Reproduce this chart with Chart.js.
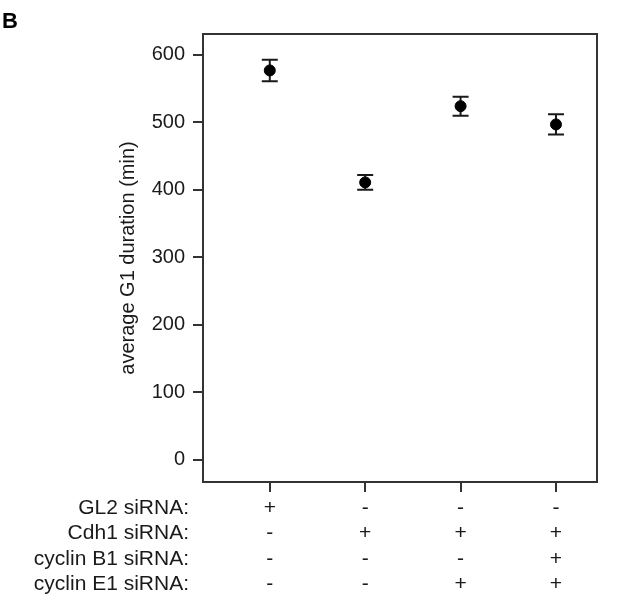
<!DOCTYPE html>
<html>
<head>
<meta charset="utf-8">
<script src="https://cdn.jsdelivr.net/npm/chart.js@4.4.1/dist/chart.umd.min.js"></script>
<style>
  html, body { margin: 0; padding: 0; background: #fff; }
</style>
</head>
<body>
<canvas id="g1Chart" width="624" height="600"></canvas>
<script>
// 🔹 Data
const conditions = [1, 2, 3, 4];
const g1Mean = [577, 411, 524, 497];
const g1Err = [16, 11, 14, 15];
const yTickValues = [0, 100, 200, 300, 400, 500, 600];

const rowLabels = ["GL2 siRNA:", "Cdh1 siRNA:", "cyclin B1 siRNA:", "cyclin E1 siRNA:"];
const gl2Row = ["+", "-", "-", "-"];
const cdh1Row = ["-", "+", "+", "+"];
const cyclinB1Row = ["-", "-", "-", "+"];
const cyclinE1Row = ["-", "-", "+", "+"];
const signRows = [gl2Row, cdh1Row, cyclinB1Row, cyclinE1Row];

const FONT = "'Liberation Sans', Arial, sans-serif";
const INK = "#1a1a1a";
const FRAME = "#333";
const X_TICK_LEN = 10;
const X_TICK_PAD = 3;
const ROW_FONT = 21;
const ROW_H = 25.6;

// 🔹 Error bars, frame, row labels and panel letter
const extras = {
    id: "extras",
    beforeDatasetsDraw(chart) {
        const { ctx, scales: { x, y } } = chart;
        ctx.save();
        ctx.strokeStyle = INK;
        ctx.lineWidth = 2;
        conditions.forEach((c, i) => {
            const px = x.getPixelForValue(c);
            const top = y.getPixelForValue(g1Mean[i] + g1Err[i]);
            const bot = y.getPixelForValue(g1Mean[i] - g1Err[i]);
            ctx.beginPath();
            ctx.moveTo(px, top); ctx.lineTo(px, bot);
            ctx.moveTo(px - 8, top); ctx.lineTo(px + 8, top);
            ctx.moveTo(px - 8, bot); ctx.lineTo(px + 8, bot);
            ctx.stroke();
        });
        ctx.restore();
    },
    afterDraw(chart) {
        const { ctx, chartArea: a } = chart;
        ctx.save();
        ctx.strokeStyle = FRAME;
        ctx.lineWidth = 2;
        ctx.beginPath();
        ctx.moveTo(a.left, a.top); ctx.lineTo(a.right, a.top); ctx.lineTo(a.right, a.bottom);
        ctx.stroke();

        ctx.fillStyle = INK;
        ctx.font = ROW_FONT + "px " + FONT;
        ctx.textAlign = "right";
        ctx.textBaseline = "middle";
        rowLabels.forEach((lab, i) => {
            ctx.fillText(lab, 189, a.bottom + X_TICK_LEN + X_TICK_PAD + ROW_H * (i + 0.5));
        });

        ctx.font = "bold 22px " + FONT;
        ctx.textAlign = "left";
        ctx.textBaseline = "alphabetic";
        ctx.fillStyle = "#000";
        ctx.fillText("B", 2, 28);
        ctx.restore();
    }
};

new Chart(document.getElementById("g1Chart").getContext("2d"), {
    type: "scatter",
    data: {
        datasets: [{
            data: conditions.map((c, i) => ({ x: c, y: g1Mean[i] })),
            pointRadius: 5.5,
            pointBackgroundColor: "#000",
            pointBorderColor: "#000",
            showLine: false
        }]
    },
    options: {
        responsive: false,
        animation: false,
        devicePixelRatio: 1,
        layout: { padding: { left: 112, top: 34, right: 27, bottom: 0 } },
        plugins: { legend: { display: false }, tooltip: { enabled: false } },
        scales: {
            x: {
                type: "linear",
                min: 0.3,
                max: 4.43,
                afterFit: s => { s.height = 118; },
                afterBuildTicks: s => { s.ticks = conditions.map(v => ({ value: v })); },
                ticks: {
                    autoSkip: false,
                    maxRotation: 0,
                    padding: X_TICK_PAD,
                    color: INK,
                    font: { family: FONT, size: ROW_FONT, lineHeight: ROW_H / ROW_FONT },
                    callback: (v, i) => signRows.map(r => r[i])
                },
                grid: { drawOnChartArea: false, tickLength: X_TICK_LEN, color: FRAME, lineWidth: 2 },
                border: { color: FRAME, width: 2 }
            },
            y: {
                min: -33,
                max: 631,
                afterFit: s => { s.width = 91; },
                afterBuildTicks: s => { s.ticks = yTickValues.map(v => ({ value: v })); },
                ticks: { padding: 8, color: INK, font: { family: FONT, size: 20 } },
                grid: { drawOnChartArea: false, tickLength: 10, color: FRAME, lineWidth: 2 },
                border: { color: FRAME, width: 2 },
                title: {
                    display: true,
                    text: "average G1 duration (min)",
                    color: INK,
                    font: { family: FONT, size: 20 },
                    padding: { top: 4, bottom: 0 }
                }
            }
        }
    },
    plugins: [extras]
});
</script>
</body>
</html>
